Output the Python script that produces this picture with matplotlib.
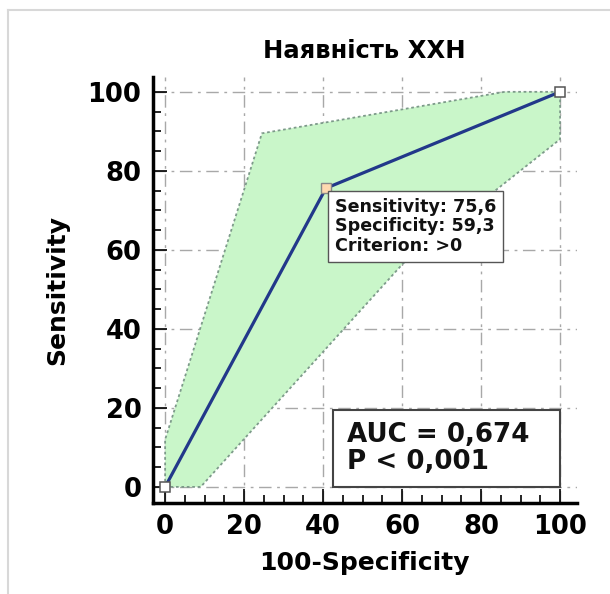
import numpy as np
import matplotlib.pyplot as plt
from matplotlib.patches import Rectangle, Polygon
from matplotlib.lines import Line2D

# ROC curve
fpr = [0, 40.7, 100]
tpr = [0, 75.6, 100]

# confidence band
upper_x = [0, 0, 24.5, 86, 100]
upper_y = [0, 12, 89.5, 100, 100]
lower_x = [0, 9, 60.2, 100, 100]
lower_y = [0, 0, 56.5, 88, 100]

title = "Наявність ХХН"
auc_text = "AUC = 0,674\nP < 0,001"
crit_text = "Sensitivity: 75,6\nSpecificity: 59,3\nCriterion: >0"
ticks = [0, 20, 40, 60, 80, 100]

plt.rcParams['font.family'] = ['DejaVu Sans']
plt.rcParams['font.weight'] = 'bold'

fig = plt.figure(figsize=(6.10, 5.94), dpi=100)
ax = fig.add_axes([0.25, 0.1537, 0.696, 0.7163])

# light gray frame of the screenshot
fig.add_artist(Line2D([8/610, 8/610], [0, 1 - 10/594], color='#d8d8d8', lw=1.5))
fig.add_artist(Line2D([8/610, 1], [1 - 10/594, 1 - 10/594], color='#d8d8d8', lw=1.5))

# band
bx = upper_x + lower_x[::-1]
by = upper_y + lower_y[::-1]
ax.add_patch(Polygon(np.column_stack([bx, by]), closed=True, facecolor='#c9f6c9',
                     edgecolor='none', zorder=1))
ax.plot(upper_x, upper_y, ls=(0, (1.5, 1.5)), color='#7d9a8a', lw=1.3, zorder=2)
ax.plot(lower_x, lower_y, ls=(0, (1.5, 1.5)), color='#7d9a8a', lw=1.3, zorder=2)

# curve
ax.plot(fpr, tpr, color='#22388a', lw=2.3, zorder=3)
ax.plot([fpr[0], fpr[2]], [tpr[0], tpr[2]], ls='none', marker='s', ms=6.5,
        mfc='white', mec='#555555', mew=1.1, zorder=4, clip_on=False)
ax.plot([fpr[1]], [tpr[1]], ls='none', marker='s', ms=6.5,
        mfc='#ffd9b0', mec='#888888', mew=1.0, zorder=4)

# criterion box
ax.text(43.0, 73.2, crit_text, fontsize=12.6, fontweight='bold', ha='left', va='top',
        linespacing=1.12, zorder=5, color='#111111',
        bbox=dict(boxstyle='square,pad=0.38', fc='white', ec='#555555', lw=1.0))

# AUC box
ax.add_patch(Rectangle((42.6, 0), 57.4, 19.4, fc='white', ec='#444444', lw=1.5, zorder=5))
ax.text(46.0, 9.8, auc_text, fontsize=18.8, fontweight='bold', ha='left', va='center',
        linespacing=1.05, zorder=6, color='#111111')

ax.set_xlim(-3.2, 104.3)
ax.set_ylim(-4.0, 103.7)
ax.set_xticks(ticks)
ax.set_yticks(ticks)
ax.set_xticks(np.arange(0, 101, 5), minor=True)
ax.set_yticks(np.arange(0, 101, 5), minor=True)
ax.tick_params(which='major', direction='in', length=10, width=1.2, labelsize=18.5, pad=8)
ax.tick_params(which='minor', direction='in', length=6, width=1.2)
for lab in ax.get_xticklabels() + ax.get_yticklabels():
    lab.set_fontweight('bold')

ax.grid(True, which='major', color='#a8a8a8', lw=1.0, ls=(0, (9, 4, 2, 4)), zorder=0)
ax.set_axisbelow(True)

for s in ['top', 'right']:
    ax.spines[s].set_visible(False)
for s in ['left', 'bottom']:
    ax.spines[s].set_linewidth(2.5)

ax.set_title(title, fontsize=17.5, fontweight='bold', pad=14)
ax.set_xlabel("100-Specificity", fontsize=18, fontweight='bold', labelpad=8)
ax.set_ylabel("Sensitivity", fontsize=18, fontweight='bold', labelpad=13)

fig.savefig("out.png", dpi=100)
